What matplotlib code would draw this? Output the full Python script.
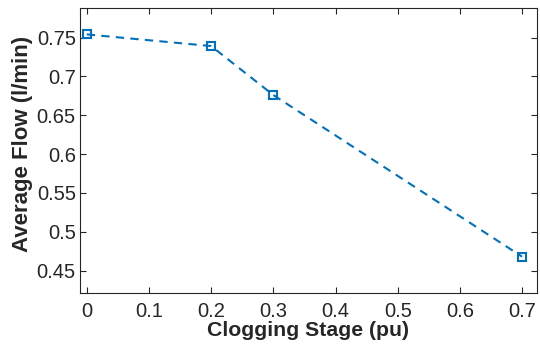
import matplotlib
matplotlib.use("Agg")
import matplotlib.pyplot as plt

# clogging stage (pu) vs measured average flow (l/min)
stage = [0.0, 0.2, 0.3, 0.7]
flow = [0.754, 0.739, 0.676, 0.468]

xticks = [0, 0.1, 0.2, 0.3, 0.4, 0.5, 0.6, 0.7]
xticklabels = ["0", "0.1", "0.2", "0.3", "0.4", "0.5", "0.6", "0.7"]
yticks = [0.45, 0.5, 0.55, 0.6, 0.65, 0.7, 0.75]
yticklabels = ["0.45", "0.5", "0.55", "0.6", "0.65", "0.7", "0.75"]

plt.rcParams["font.family"] = ["Liberation Sans", "DejaVu Sans"]

fig = plt.figure(figsize=(5.4, 3.47), dpi=100)
ax = fig.add_axes([0.148, 0.155, 0.8465, 0.822])

ax.plot(stage, flow, linestyle="--", color="#0072BD", linewidth=1.5,
        marker="s", markersize=6, markerfacecolor="none",
        markeredgewidth=1.5, dashes=(4, 3))

ax.set_xlim(-0.011, 0.724)
ax.set_ylim(0.421, 0.788)
ax.set_xticks(xticks)
ax.set_xticklabels(xticklabels)
ax.set_yticks(yticks)
ax.set_yticklabels(yticklabels)

ax.tick_params(direction="in", top=True, right=True, length=4, width=0.8,
               colors="#262626", labelsize=14.5)
ax.tick_params(axis="x", pad=6)
ax.tick_params(axis="y", pad=3)
for s in ax.spines.values():
    s.set_color("#262626")
    s.set_linewidth(0.8)

ax.set_xlabel("Clogging Stage (pu)", fontsize=15.3, fontweight="bold",
              color="#262626", labelpad=0)
ax.set_ylabel("Average Flow (l/min)", fontsize=16, fontweight="bold",
              color="#262626")
ax.yaxis.set_label_coords(-0.103, 0.525)

fig.savefig("out.png", dpi=100)
